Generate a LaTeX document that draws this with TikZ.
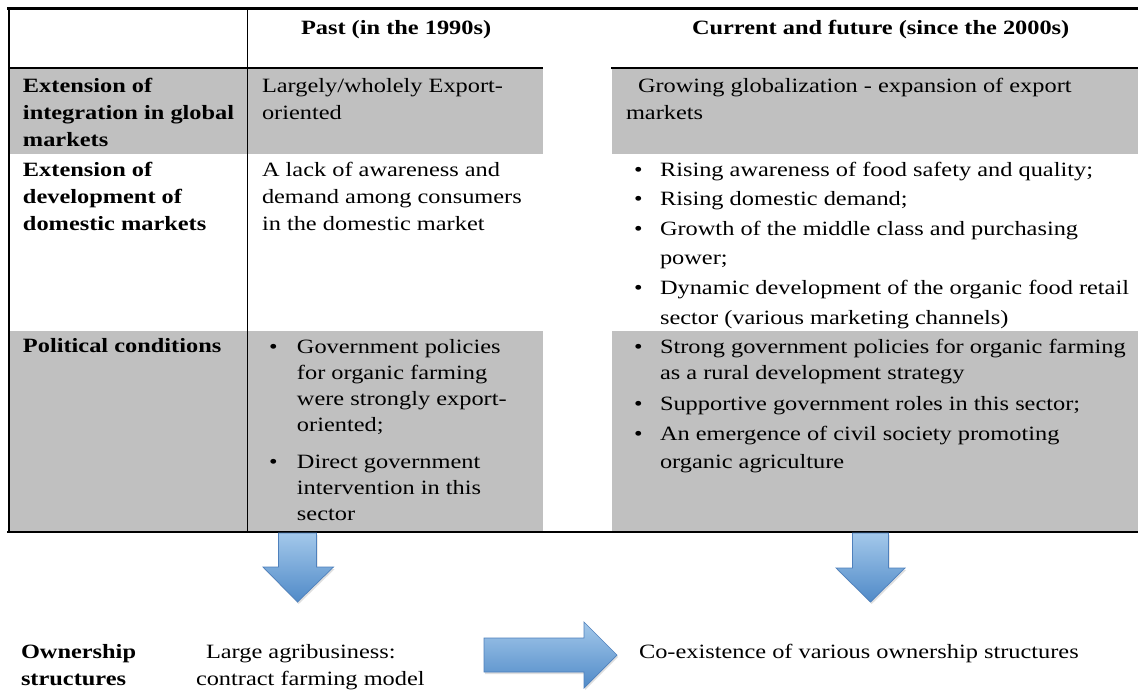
\documentclass[tikz,border=0pt]{standalone}
\usepackage{fontspec}
\usepackage{graphicx}
\setmainfont{Liberation Serif}
\usetikzlibrary{shadows}
\definecolor{cellgray}{RGB}{192,192,192}
\definecolor{arrlight}{RGB}{163,200,234}
\definecolor{arrdark}{RGB}{80,138,200}
\definecolor{arredge}{RGB}{78,128,188}
\newcommand{\tb}[2]{\scalebox{1.2}[1]{\fontsize{20.3}{#1}\selectfont\begin{tabular}[t]{@{}l@{}l@{}}#2\end{tabular}}}
\newcommand{\bl}[1]{\makebox[#1][l]{\textbullet}}
\tikzset{
  txt/.style={anchor=base west, inner sep=0pt, outer sep=0pt},
  hline/.style={line width=2.4pt, black},
  vline/.style={line width=1.2pt, black},
  cell/.style={fill=cellgray, draw=none},
  blockarrow/.style={draw=arredge, line width=0.7pt, top color=arrlight, bottom color=arrdark,
    drop shadow={opacity=0.25, shadow xshift=1.2pt, shadow yshift=-2pt}},
}
\begin{document}
\begin{tikzpicture}[x=1pt,y=-1pt]
\useasboundingbox (0,0) rectangle (1138,689);
\fill[white] (0,0) rectangle (1138,689);
% gray cells
\path[cell] (9,68) rectangle (543,154);
\path[cell] (612,68) rectangle (1138,154);
\path[cell] (9,331) rectangle (543,532);
\path[cell] (612,331) rectangle (1138,532);
% rules
\draw[hline] (7,8.5) -- (1138,8.5);
\draw[hline] (8,68) -- (543,68);
\draw[hline] (611,68) -- (1138,68);
\draw[hline] (7,532) -- (1138,532);
\draw[vline] (9,8) -- (9,532);
\draw[vline] (247.5,8) -- (247.5,532);
% header
\node[txt] (hdpast) at (301,34) {\tb{27}{\bfseries Past (in the 1990s)}};
\node[txt] (hdcur) at (692,34) {\tb{27}{\bfseries Current and future (since the 2000s)}};
% row 1
\node[txt] (l1) at (23,92) {\tb{27}{\bfseries Extension of\\ \bfseries integration in global\\ \bfseries markets}};
\node[txt] (p1) at (262,92) {\tb{27}{Largely/wholely Export-\\ oriented}};
\node[txt] (c1) at (626,92) {\tb{27}{\hspace*{10pt}Growing globalization - expansion of export\\ markets}};
% row 2
\node[txt] (l2) at (23,176) {\tb{27}{\bfseries Extension of\\ \bfseries development of\\ \bfseries domestic markets}};
\node[txt] (p2) at (262,176) {\tb{27}{A lack of awareness and\\ demand among consumers\\ in the domestic market}};
\node[txt] (c2) at (634,176) {\tb{29.6}{\bl{21.7pt} & Rising awareness of food safety and quality;\\
  \bl{21.7pt} & Rising domestic demand;\\
  \bl{21.7pt} & Growth of the middle class and purchasing\\
  & power;\\
  \bl{21.7pt} & Dynamic development of the organic food retail\\
  & sector (various marketing channels)}};
% row 3
\node[txt] (l3) at (23,352) {\tb{27}{\bfseries Political conditions}};
\node[txt] (p3) at (269,353) {\tb{26}{\bl{23.3pt} & Government policies\\
  & for organic farming\\
  & were strongly export-\\
  & oriented;\\[11pt]
  \bl{23.3pt} & Direct government\\
  & intervention in this\\
  & sector}};
\node[txt] (c3) at (634,353) {\tb{26}{\bl{21.7pt} & Strong government policies for organic farming\\
  & as a rural development strategy\\[5pt]
  \bl{21.7pt} & Supportive government roles in this sector;\\[4pt]
  \bl{21.7pt} & An emergence of civil society promoting\\[2pt]
  & organic agriculture}};
% bottom
\node[txt] (own) at (21,658) {\tb{27.5}{\bfseries Ownership\\ \bfseries structures}};
\node[txt] (large) at (206,658) {\tb{27.5}{Large agribusiness:}};
\node[txt] (contract) at (196,685.5) {\tb{27.5}{contract farming model}};
\node[txt] (coex) at (639,658) {\tb{27.5}{Co-existence of various ownership structures}};
% block arrows
\coordinate (da) at (297.5,533);
\coordinate (db) at (870.5,533);
\coordinate (ra) at (484,655);
\path[blockarrow] (da) ++(-19,0) -- ++(38,0) -- ++(0,34) -- ++(17,0) -- (297.5,602) -- (263,567) -- ++(15.5,0) -- cycle;
\path[blockarrow] (db) ++(-18,0) -- ++(36,0) -- ++(0,35) -- ++(16.5,0) -- (870.5,602) -- (836,568) -- ++(16.5,0) -- cycle;
\path[blockarrow] (ra) ++(0,-17) -- ++(100,0) -- ++(0,-16) -- (617,655) -- (584,688) -- ++(0,-16) -- ++(-100,0) -- cycle;
\end{tikzpicture}
\end{document}
